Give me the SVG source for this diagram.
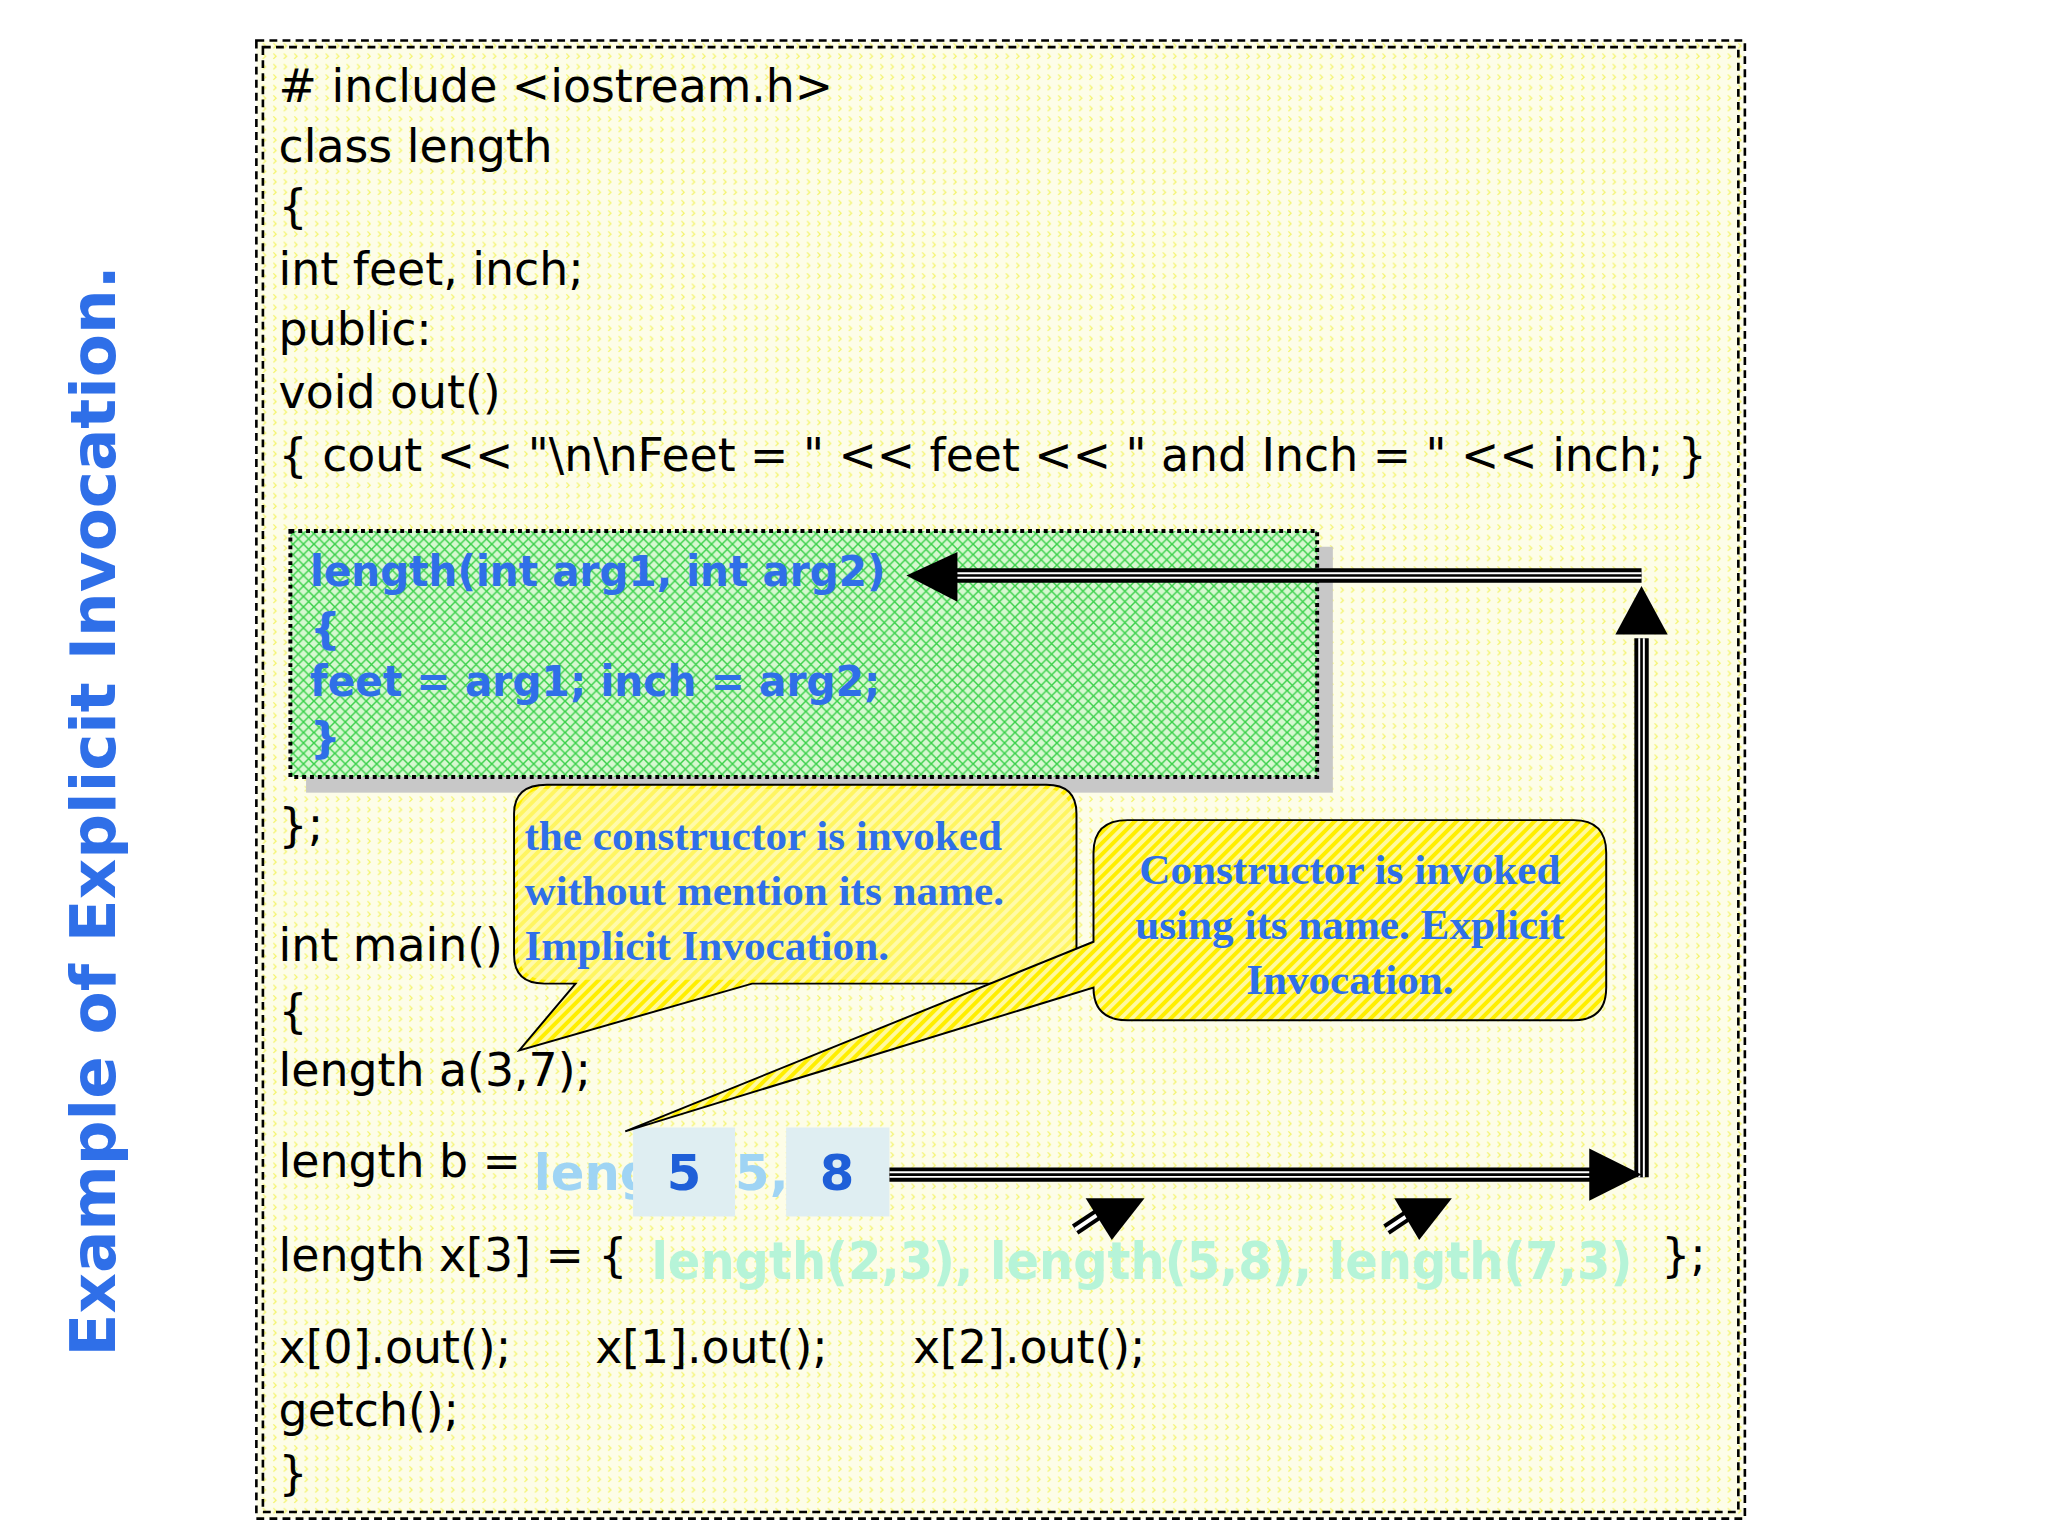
<svg xmlns="http://www.w3.org/2000/svg" width="2048" height="1536" viewBox="0 0 2048 1536">
<defs>
<pattern id="dots" width="8" height="8" patternUnits="userSpaceOnUse"><rect width="8" height="8" fill="#fdfde8"/><path d="M1 1l2 2l-2 2" stroke="#f4f46a" stroke-width="1" fill="none"/></pattern>
<pattern id="green" width="8" height="8" patternUnits="userSpaceOnUse"><rect width="8" height="8" fill="#d6f8d0"/><path d="M0 0l8 8M8 0l-8 8" stroke="#3ad04a" stroke-width="1.1"/></pattern>
<pattern id="stripes" width="6" height="6" patternUnits="userSpaceOnUse" patternTransform="rotate(45)"><rect width="6" height="6" fill="#fff9a0"/><rect width="3" height="6" fill="#ffee00"/></pattern>
</defs>
<style>
.code{font-family:"DejaVu Sans",sans-serif;font-size:35px;fill:#000}
.g{font-family:"DejaVu Sans",sans-serif;font-size:33px;font-weight:bold;fill:#2f6fe8}
.c{font-family:"Liberation Serif",serif;font-size:33px;font-weight:bold;fill:#2f6fe8}
</style>
<rect width="2048" height="1536" fill="#fff"/>
<g transform="scale(1.308)">
<g id="frame">
<rect x="196" y="31" width="1138" height="1130" fill="url(#dots)" stroke="#000" stroke-width="2" stroke-dasharray="6 4"/>
<rect x="201" y="36" width="1128" height="1120" fill="none" stroke="#000" stroke-width="2" stroke-dasharray="6 4"/>
</g>
<g id="title"><text transform="translate(88,620) rotate(-90)" text-anchor="middle" font-family="DejaVu Sans,sans-serif" font-weight="bold" font-size="48" fill="#2f6fe8">Example of Explicit Invocation.</text></g>
<g id="code">
<text class="code" x="213" y="78"># include &lt;iostream.h&gt;</text>
<text class="code" x="213" y="124">class length</text>
<text class="code" x="213" y="170">{</text>
<text class="code" x="213" y="218">int feet, inch;</text>
<text class="code" x="213" y="264">public:</text>
<text class="code" x="213" y="312">void out()</text>
<text class="code" x="213" y="360" textLength="1092" lengthAdjust="spacingAndGlyphs">{ cout &lt;&lt; "\n\nFeet = " &lt;&lt; feet &lt;&lt; " and Inch = " &lt;&lt; inch; }</text>
<text class="code" x="213" y="643">};</text>
<text class="code" x="213" y="735">int main()</text>
<text class="code" x="213" y="785">{</text>
<text class="code" x="213" y="830">length a(3,7);</text>
<text class="code" x="213" y="900">length b = </text>
<text class="code" x="213" y="972">length x[3] = {</text>
<text class="code" x="1270" y="972">};</text>
<text class="code" x="213" y="1042">x[0].out();</text>
<text class="code" x="455" y="1042">x[1].out();</text>
<text class="code" x="698" y="1042">x[2].out();</text>
<text class="code" x="213" y="1090">getch();</text>
<text class="code" x="213" y="1138">}</text>
<text x="498" y="978" font-family="DejaVu Sans,sans-serif" font-weight="bold" font-size="40" fill="#b6f4d8" textLength="750" lengthAdjust="spacingAndGlyphs">length(2,3), length(5,8), length(7,3)</text>
<text x="408" y="910" font-family="DejaVu Sans,sans-serif" font-weight="bold" font-size="38" fill="#9fd4f4">leng</text>
<text x="562" y="910" font-family="DejaVu Sans,sans-serif" font-weight="bold" font-size="38" fill="#9fd4f4">5,</text>
<g id="b5"><rect x="484" y="862" width="78" height="68" fill="#dfeef2"/><text x="523" y="910" text-anchor="middle" font-family="DejaVu Sans,sans-serif" font-weight="bold" font-size="38" fill="#1f5fd8">5</text></g>
<g id="b8"><rect x="601" y="862" width="79" height="68" fill="#dfeef2"/><text x="640" y="910" text-anchor="middle" font-family="DejaVu Sans,sans-serif" font-weight="bold" font-size="38" fill="#1f5fd8">8</text></g>
</g>
<g id="ctor">
<rect x="234" y="418" width="785" height="188" fill="#c8c8c8"/>
<rect x="222" y="406" width="785" height="188" fill="url(#green)" stroke="#000" stroke-width="3" stroke-dasharray="3 3"/>
<text class="g" x="237" y="448" textLength="440" lengthAdjust="spacingAndGlyphs">length(int arg1, int arg2)</text>
<text class="g" x="237" y="492">{</text>
<text class="g" x="237" y="532" textLength="436" lengthAdjust="spacingAndGlyphs">feet = arg1; inch = arg2;</text>
<text class="g" x="237" y="576">}</text>
</g>
<g id="connectors" fill="none" stroke="#000">
<path d="M680 898H1225M1255 900V488M1255 440H730" stroke-width="11"/>
<path d="M680 898H1225M1255 900V488M1255 440H730" stroke="#fff" stroke-width="5"/>
<path d="M680 898H1225M1255 900V488M1255 440H730" stroke-width="2"/>
<path d="M1215 878L1255 898L1215 918z" fill="#000" stroke="none"/>
<path d="M1235 485L1255 448L1275 485z" fill="#000" stroke="none"/>
<path d="M732 422L693 440L732 460z" fill="#000" stroke="none"/>
<path d="M822 940L840 928" stroke-width="9"/><path d="M822 940L840 928" stroke="#fff" stroke-width="3"/>
<path d="M830 916H875L850 948z" fill="#000" stroke="none"/>
<path d="M1060 940L1078 928" stroke-width="9"/><path d="M1060 940L1078 928" stroke="#fff" stroke-width="3"/>
<path d="M1066 916H1110L1085 948z" fill="#000" stroke="none"/>
</g>
<g id="callout1">
<path d="M418 600H800Q823 600 823 622V730Q823 752 800 752H575L397 803L440 752H416Q393 752 393 730V622Q393 600 418 600z" fill="url(#stripes)" stroke="#000" stroke-width="1.5"/>
<rect x="396" y="603" width="424" height="146" rx="20" fill="#fffbb0" opacity="0.55"/>
<text class="c" x="401" y="650">the constructor is invoked</text>
<text class="c" x="401" y="692">without mention its name.</text>
<text class="c" x="401" y="734">Implicit Invocation.</text>
</g>
<g id="callout2">
<path d="M862 627H1203Q1228 627 1228 652V755Q1228 780 1203 780H862Q836 780 836 755L478 865L836 720V652Q836 627 862 627z" fill="url(#stripes)" stroke="#000" stroke-width="1.5"/>
<text class="c" x="1032" y="676" text-anchor="middle">Constructor is invoked</text>
<text class="c" x="1032" y="718" text-anchor="middle">using its name. Explicit</text>
<text class="c" x="1032" y="760" text-anchor="middle">Invocation.</text>
</g>
</g>
</svg>
